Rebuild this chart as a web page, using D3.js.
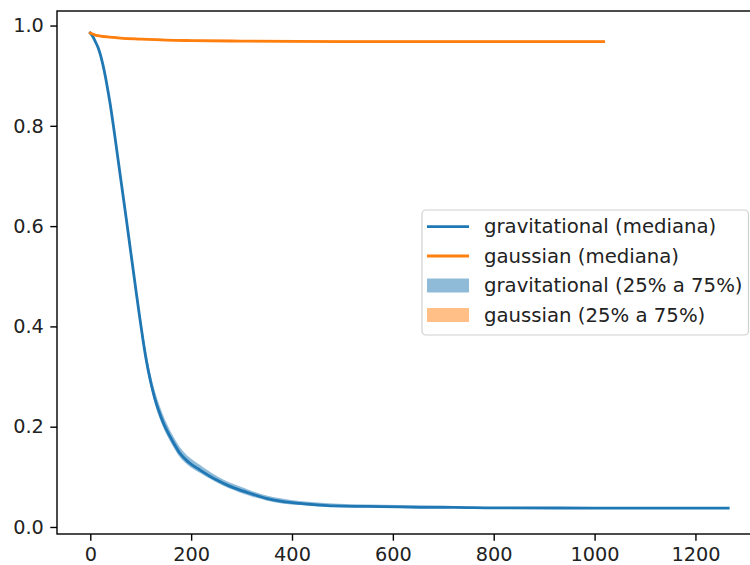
<!DOCTYPE html>
<html>
<head>
<meta charset="utf-8">
<script src="https://cdnjs.cloudflare.com/ajax/libs/d3/7.8.5/d3.min.js"></script>
<style>
    body { margin: 0; background: #fff; }
    svg { display: block; font-family: "DejaVu Sans", sans-serif; }
</style>
</head>
<body>
<svg width="750" height="565"></svg>
<script>
// gravitational: median and 25%-75% band
const gravX   = [0, 5, 10, 15, 20, 25, 30, 35, 40, 45, 50, 60, 72, 80, 90, 98, 105, 111, 120, 128, 140, 151, 165, 177, 195, 217, 250, 275, 296, 320, 349, 380, 415, 450, 481, 550, 613, 700, 720, 800, 1000, 1265];
const gravMed = [0.985, 0.978, 0.968, 0.957, 0.942, 0.922, 0.898, 0.870, 0.840, 0.806, 0.770, 0.697, 0.610, 0.550, 0.476, 0.418, 0.370, 0.333, 0.288, 0.256, 0.220, 0.194, 0.168, 0.148, 0.129, 0.114, 0.094, 0.082, 0.074, 0.066, 0.057, 0.051, 0.047, 0.044, 0.042, 0.041, 0.040, 0.039, 0.039, 0.038, 0.0378, 0.0375];
const gravQ25 = [0.985, 0.976, 0.965, 0.953, 0.937, 0.916, 0.891, 0.863, 0.832, 0.798, 0.761, 0.688, 0.600, 0.540, 0.466, 0.408, 0.360, 0.323, 0.278, 0.246, 0.210, 0.185, 0.159, 0.140, 0.122, 0.108, 0.089, 0.077, 0.069, 0.061, 0.053, 0.047, 0.044, 0.041, 0.040, 0.039, 0.038, 0.0375, 0.038, 0.0372, 0.0370, 0.0368];
const gravQ75 = [0.985, 0.980, 0.971, 0.961, 0.947, 0.928, 0.905, 0.877, 0.848, 0.814, 0.779, 0.706, 0.620, 0.561, 0.488, 0.430, 0.384, 0.348, 0.303, 0.271, 0.235, 0.208, 0.180, 0.160, 0.140, 0.124, 0.102, 0.089, 0.081, 0.072, 0.063, 0.057, 0.052, 0.049, 0.047, 0.045, 0.044, 0.043, 0.042, 0.039, 0.0386, 0.0382];

// gaussian: median and 25%-75% band
const gausX   = [0, 10, 20, 40, 60, 100, 150, 200, 300, 500, 700, 1018];
const gausMed = [0.985, 0.981, 0.979, 0.977, 0.975, 0.973, 0.971, 0.970, 0.969, 0.968, 0.968, 0.968];
const gausQ25 = [0.985, 0.979, 0.977, 0.975, 0.973, 0.971, 0.969, 0.968, 0.967, 0.966, 0.966, 0.966];
const gausQ75 = [0.985, 0.983, 0.981, 0.979, 0.977, 0.975, 0.973, 0.972, 0.971, 0.970, 0.970, 0.970];

const xTicks = [0, 200, 400, 600, 800, 1000, 1200];
const yTicks = [0.0, 0.2, 0.4, 0.6, 0.8, 1.0];

const legendLabels = ["gravitational (mediana)", "gaussian (mediana)", "gravitational (25% a 75%)", "gaussian (25% a 75%)"];

const blue = "#1f77b4", orange = "#ff7f0e";

const svg = d3.select("svg");
const plotLeft = 57, plotTop = 11, plotRight = 761, plotBottom = 534;

const x = d3.scaleLinear().domain([-66, 1330]).range([plotLeft, plotRight]);
const y = d3.scaleLinear().domain([-0.014, 1.029]).range([plotBottom, plotTop]);

function band(xs, lo, hi, color) {
    const pts = xs.map((d, i) => [d, lo[i], hi[i]]);
    svg.append("path").datum(pts)
        .attr("d", d3.area().x(d => x(d[0])).y0(d => y(d[1])).y1(d => y(d[2])).curve(d3.curveMonotoneX))
        .attr("fill", color).attr("fill-opacity", 0.5).attr("stroke", "none");
}
function line(xs, ys, color) {
    const pts = xs.map((d, i) => [d, ys[i]]);
    svg.append("path").datum(pts)
        .attr("d", d3.line().x(d => x(d[0])).y(d => y(d[1])).curve(d3.curveMonotoneX))
        .attr("fill", "none").attr("stroke", color).attr("stroke-width", 2.8)
        .attr("stroke-linecap", "square");
}

band(gravX, gravQ25, gravQ75, blue);
band(gausX, gausQ25, gausQ75, orange);
line(gravX, gravMed, blue);
line(gausX, gausMed, orange);

// axes
const fs = 19.3, tickLen = 6.7;
const xAxis = d3.axisBottom(x).tickValues(xTicks).tickSize(tickLen).tickPadding(6.5).tickFormat(d3.format("d"));
const yAxis = d3.axisLeft(y).tickValues(yTicks).tickSize(tickLen).tickPadding(6.5).tickFormat(d3.format(".1f"));

const gx = svg.append("g").attr("transform", `translate(0,${plotBottom})`).call(xAxis);
const gy = svg.append("g").attr("transform", `translate(${plotLeft},0)`).call(yAxis);
[gx, gy].forEach(g => {
    g.select(".domain").remove();
    g.selectAll(".tick line").attr("stroke", "#000").attr("stroke-width", 1.4);
    g.selectAll(".tick text").attr("fill", "#222").attr("font-size", fs).attr("font-family", "DejaVu Sans");
});

svg.append("rect").attr("x", plotLeft).attr("y", plotTop)
    .attr("width", plotRight - plotLeft).attr("height", plotBottom - plotTop)
    .attr("fill", "none").attr("stroke", "#000").attr("stroke-width", 1.4);

// legend
const lg = svg.append("g");
lg.append("rect").attr("x", 422).attr("y", 210).attr("width", 326.5).attr("height", 125)
    .attr("rx", 4).attr("fill", "#fff").attr("fill-opacity", 0.8)
    .attr("stroke", "#d0d0d0").attr("stroke-width", 1.2);
const rowY = [226.7, 256, 285.5, 315];
const handles = [
    {type: "line", color: blue},
    {type: "line", color: orange},
    {type: "patch", color: blue},
    {type: "patch", color: orange}
];
handles.forEach((h, i) => {
    if (h.type === "line") {
        lg.append("line").attr("x1", 427).attr("x2", 469).attr("y1", rowY[i]).attr("y2", rowY[i])
            .attr("stroke", h.color).attr("stroke-width", 2.8);
    } else {
        lg.append("rect").attr("x", 427).attr("y", rowY[i] - 7).attr("width", 42).attr("height", 14)
            .attr("fill", h.color).attr("fill-opacity", 0.5);
    }
    lg.append("text").attr("x", 484).attr("y", rowY[i]).attr("dy", "0.33em")
        .attr("font-size", 19.7).attr("fill", "#222").text(legendLabels[i]);
});
</script>
</body>
</html>
